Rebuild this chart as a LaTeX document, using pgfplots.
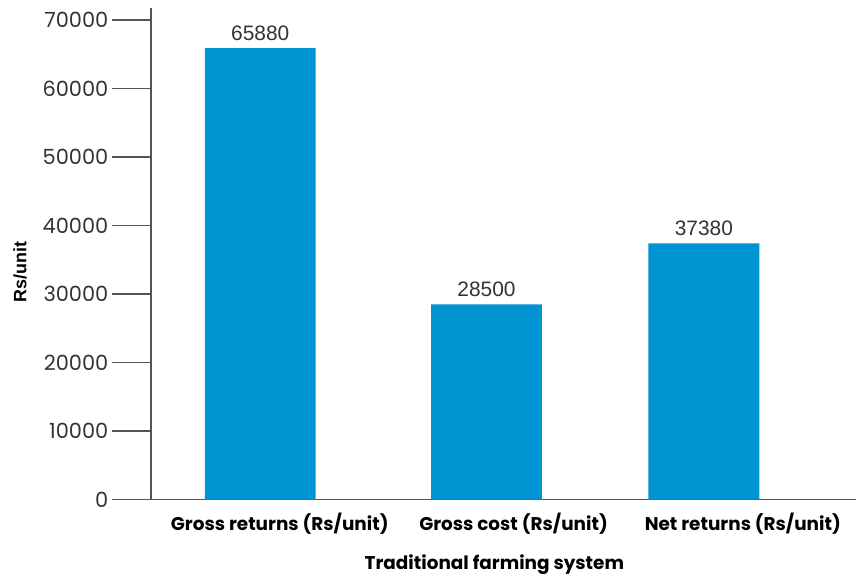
\documentclass[border=0pt]{standalone}
\usepackage{pgfplots}
\pgfplotsset{compat=1.18}
\usepackage{fontspec}
\setmainfont{Poppins}
\newfontfamily\arialfont{Liberation Sans}

\definecolor{barblue}{HTML}{0094D3}
\definecolor{axisgray}{HTML}{5A5252}
\definecolor{labgray}{HTML}{333333}

\begin{document}
\begin{tikzpicture}
\begin{axis}[
  name=ax,
  scale only axis,
  width=706bp, height=492bp,
  xmin=151, xmax=857,
  ymin=0, ymax=71750,
  axis lines*=left,
  axis line style={draw=axisgray, line width=1.6bp},
  clip=false,
  ytick={0,10000,...,70000},
  scaled y ticks=false,
  /pgf/number format/.cd, fixed, set thousands separator={}, assume math mode=true,
  /pgfplots/.cd,
  xtick={280,514,743.5},
  xticklabels={Gross returns (Rs/unit), Gross cost (Rs/unit), Net returns (Rs/unit)},
  x tick style={draw=none},
  y tick style={draw=axisgray, line width=1.3bp},
  tick align=outside,
  major tick length=39bp,
  y tick label style={font=\fontsize{21}{21}\selectfont, text=labgray},
  % the long outward ticks push the category names down; lift them back
  x tick label style={font=\bfseries\fontsize{18.5}{18.5}\selectfont, text=black, yshift=29bp},
  xlabel={Traditional farming system},
  xlabel style={font=\bfseries\fontsize{18.5}{18.5}\selectfont, text=black,
    at={([yshift=-65bp]axis description cs:0.487,0)}, anchor=center},
  ylabel={Rs/unit},
  ylabel style={font=\arialfont\bfseries\fontsize{18}{18}\selectfont, text=black,
    at={([xshift=-131bp]axis description cs:0,0.463)}, anchor=center},
  ybar, bar width=111,
  nodes near coords,
  nodes near coords style={font=\arialfont\fontsize{21}{21}\selectfont, text=labgray, yshift=4bp},
]
\addplot[fill=barblue, draw=none] coordinates {(260.5,65880) (487,28500) (704.5,37380)};
\end{axis}
\path (ax.south west) ++(-151bp,-78bp) rectangle ++(857bp,578bp);
\end{tikzpicture}
\end{document}
